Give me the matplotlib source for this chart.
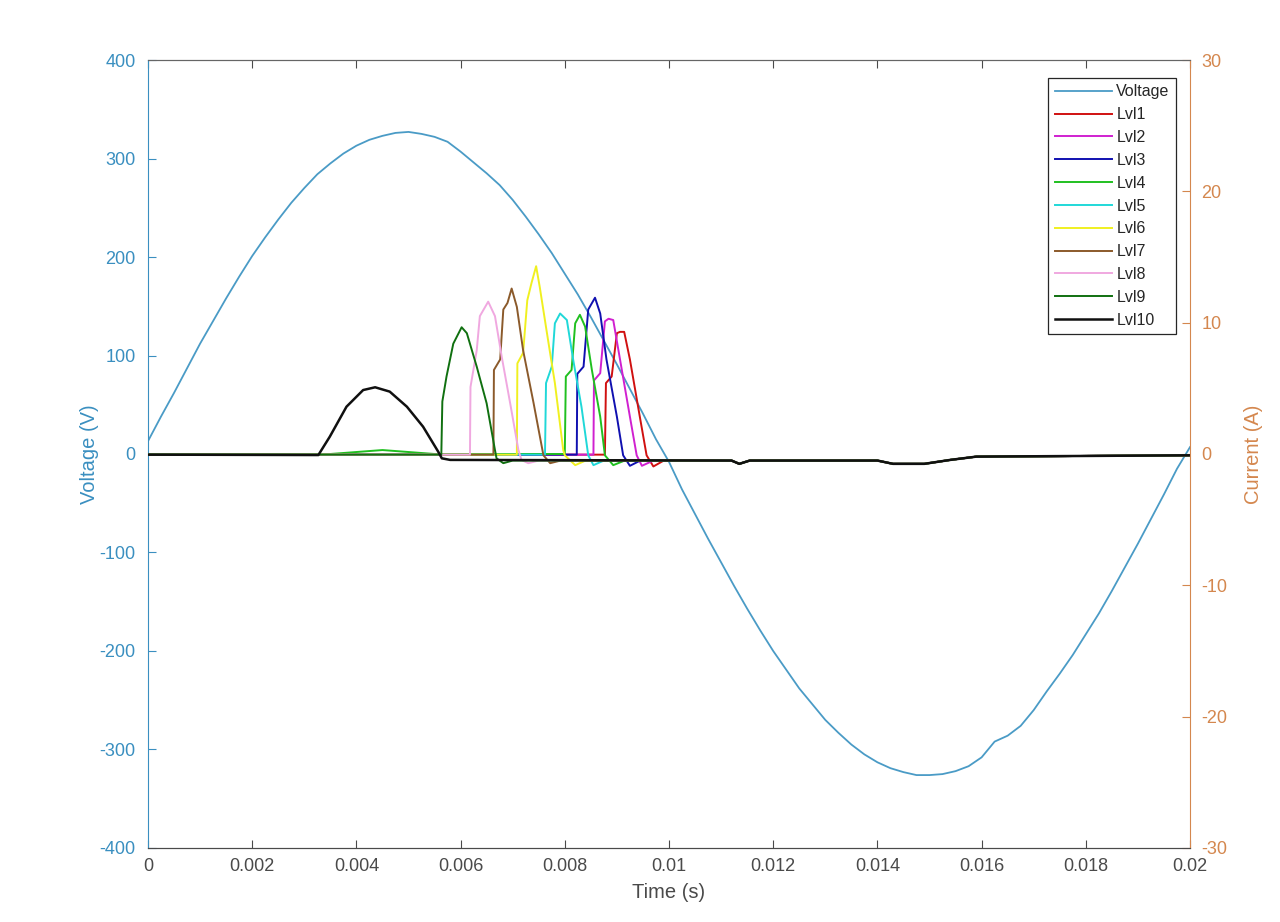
import matplotlib
matplotlib.use("Agg")
import matplotlib.pyplot as plt
import numpy as np

plt.rcParams['font.family'] = ['Liberation Sans', 'DejaVu Sans']
plt.rcParams['axes.unicode_minus'] = False

# ---------------- data (time in ms) ----------------
volt_t = [0, 0.25, 0.5, 0.75, 1.0, 1.25, 1.5, 1.75, 2.0, 2.25, 2.5, 2.75, 3.0, 3.25, 3.5, 3.75,
          4.0, 4.25, 4.5, 4.75, 5.0, 5.25, 5.5, 5.75, 6.0, 6.25, 6.5, 6.75,
          7.0, 7.25, 7.5, 7.75, 8.0, 8.25, 8.5, 8.75, 9.0, 9.25, 9.5, 9.75,
          10.0, 10.25, 10.5, 10.75, 11.0, 11.25, 11.5, 11.75, 12.0, 12.25, 12.5, 12.75,
          13.0, 13.25, 13.5, 13.75, 14.0, 14.25, 14.5, 14.75, 15.0, 15.25, 15.5, 15.75,
          16.0, 16.25, 16.5, 16.75, 17.0, 17.25, 17.5, 17.75, 18.0, 18.25,
          18.5, 18.75, 19.0, 19.25, 19.5, 19.75, 20.0]
volt_v = [13, 38, 62, 87, 112, 135, 158, 180, 201, 220, 238, 255, 270, 284, 295, 305,
          313, 319, 323, 326, 327, 325, 322, 317, 307, 296, 285, 273,
          258, 241, 223, 204, 183, 162, 139, 115, 91, 66, 41, 15,
          -8, -36, -61, -86, -110, -134, -157, -179, -200, -219, -238, -254,
          -270, -283, -295, -305, -313, -319, -323, -326, -326, -325, -322, -317,
          -308, -292, -286, -276, -260, -241, -223, -204, -183, -162,
          -139, -115, -91, -66, -41, -15, 7]

tail_t = [11.2, 11.35, 11.55, 14.0, 14.3, 14.9, 15.4, 15.9, 20.0]
tail_i = [-0.5, -0.75, -0.5, -0.5, -0.75, -0.75, -0.45, -0.2, -0.1]

lvl1_t = [0, 8.77, 8.79, 8.90, 9.00, 9.06, 9.14, 9.25, 9.44, 9.57, 9.70, 9.90]
lvl1_i = [-0.05, -0.05, 5.4, 5.9, 9.2, 9.3, 9.3, 7.2, 2.84, -0.1, -0.95, -0.5]
lvl2_t = [0, 8.55, 8.56, 8.68, 8.77, 8.84, 8.93, 9.06, 9.25, 9.38, 9.48, 9.70]
lvl2_i = [-0.05, -0.05, 5.6, 6.15, 10.1, 10.3, 10.2, 7.2, 2.84, -0.1, -0.9, -0.5]
lvl3_t = [0, 8.23, 8.24, 8.36, 8.45, 8.58, 8.68, 8.80, 9.00, 9.12, 9.25, 9.45]
lvl3_i = [-0.05, -0.05, 6.1, 6.65, 11.0, 11.9, 10.7, 7.2, 2.84, -0.1, -0.9, -0.5]
lvl4_t = [0, 3.5, 4.5, 5.5, 8.00, 8.02, 8.13, 8.20, 8.29, 8.39, 8.52, 8.68, 8.77, 8.93, 9.15]
lvl4_i = [0.0, 0.0, 0.3, 0.0, 0.0, 5.9, 6.4, 9.95, 10.6, 9.7, 6.4, 2.84, -0.1, -0.85, -0.5]
lvl5_t = [0, 7.62, 7.64, 7.75, 7.81, 7.91, 8.04, 8.16, 8.32, 8.45, 8.55, 8.75]
lvl5_i = [-0.05, -0.05, 5.4, 6.65, 9.95, 10.7, 10.2, 7.2, 3.6, -0.1, -0.85, -0.5]
lvl6_t = [0, 7.08, 7.09, 7.20, 7.28, 7.36, 7.45, 7.52, 7.65, 7.81, 7.97, 8.00, 8.20, 8.40]
lvl6_i = [-0.05, -0.05, 6.9, 7.7, 11.7, 13.0, 14.3, 12.7, 9.4, 5.4, 0.3, -0.1, -0.85, -0.5]
lvl7_t = [0, 6.63, 6.64, 6.76, 6.82, 6.90, 6.98, 7.08, 7.20, 7.40, 7.59, 7.72, 7.92]
lvl7_i = [-0.05, -0.05, 6.4, 7.2, 11.0, 11.5, 12.6, 11.2, 7.9, 3.9, -0.1, -0.7, -0.5]
lvl8_t = [0, 6.18, 6.19, 6.31, 6.37, 6.53, 6.66, 6.79, 6.95, 7.11, 7.17, 7.30, 7.50]
lvl8_i = [-0.05, -0.05, 5.1, 7.9, 10.5, 11.6, 10.5, 7.4, 3.9, 0.3, -0.46, -0.7, -0.5]
lvl9_t = [0, 5.63, 5.65, 5.73, 5.86, 6.02, 6.12, 6.31, 6.50, 6.66, 6.69, 6.82, 7.00]
lvl9_i = [-0.05, -0.05, 4.0, 5.9, 8.4, 9.65, 9.2, 6.65, 3.86, 0.3, -0.33, -0.7, -0.5]
lvl10_t = [0, 3.27, 3.49, 3.81, 4.13, 4.36, 4.64, 4.97, 5.28, 5.57, 5.64, 5.80]
lvl10_i = [-0.05, -0.08, 1.32, 3.6, 4.87, 5.08, 4.75, 3.6, 2.08, 0.18, -0.33, -0.45]

level_names = ['Lvl1', 'Lvl2', 'Lvl3', 'Lvl4', 'Lvl5', 'Lvl6', 'Lvl7', 'Lvl8', 'Lvl9', 'Lvl10']
level_colors = ['#D01010', '#D020D0', '#1010B0', '#20C020', '#20D8D8', '#F0F020',
                '#8B5A2B', '#F0A8E0', '#107010', '#101010']
levels_t = [lvl1_t, lvl2_t, lvl3_t, lvl4_t, lvl5_t, lvl6_t, lvl7_t, lvl8_t, lvl9_t, lvl10_t]
levels_i = [lvl1_i, lvl2_i, lvl3_i, lvl4_i, lvl5_i, lvl6_i, lvl7_i, lvl8_i, lvl9_i, lvl10_i]

xticks = [0, 0.002, 0.004, 0.006, 0.008, 0.01, 0.012, 0.014, 0.016, 0.018, 0.02]
xtick_labels = ['0', '0.002', '0.004', '0.006', '0.008', '0.01', '0.012', '0.014', '0.016', '0.018', '0.02']
vticks = [-400, -300, -200, -100, 0, 100, 200, 300, 400]
iticks = [-30, -20, -10, 0, 10, 20, 30]

# ---------------- figure ----------------
BLUE = '#3A8FC0'
VLINE = '#4A9BC6'
ORANGE = '#D4874E'
GRAY = '#4A4A4A'

fig = plt.figure(figsize=(12.8, 9.22), dpi=100)
ax = fig.add_axes([0.1156, 0.0803, 0.8141, 0.8546])
ax2 = ax.twinx()

vline, = ax.plot(np.array(volt_t) / 1000.0, volt_v, color=VLINE, lw=1.3, label='Voltage')

handles = [vline]
for name, col, tt, ii in zip(level_names, level_colors, levels_t, levels_i):
    t_all = np.concatenate([np.array(tt), np.array(tail_t)]) / 1000.0
    i_all = np.concatenate([np.array(ii), np.array(tail_i)])
    lw = 1.8 if name == 'Lvl10' else 1.4
    h, = ax2.plot(t_all, i_all, color=col, lw=lw, label=name)
    handles.append(h)

ax.set_xlim(0, 0.02)
ax.set_ylim(-400, 400)
ax2.set_ylim(-30, 30)

ax.set_xticks(xticks)
ax.set_xticklabels(xtick_labels)
ax.set_yticks(vticks)
ax2.set_yticks(iticks)

ax.tick_params(axis='x', direction='in', length=6, top=True, colors=GRAY, labelsize=13, pad=7)
ax.tick_params(axis='y', direction='in', length=6, colors=BLUE, labelsize=13, pad=9)
ax2.tick_params(axis='y', direction='in', length=6, colors=ORANGE, labelsize=13, pad=8)

for a in (ax, ax2):
    a.spines['top'].set_color('#666666')
    a.spines['bottom'].set_color(GRAY)
ax.spines['left'].set_color(BLUE)
ax2.spines['left'].set_visible(False)
ax2.spines['right'].set_color(ORANGE)
ax.spines['right'].set_visible(False)

ax.set_xlabel('Time (s)', fontsize=14.5, color=GRAY, labelpad=6)
ax.set_ylabel('Voltage (V)', fontsize=14.5, color=BLUE, labelpad=0)
ax2.set_ylabel('Current (A)', fontsize=14.5, color=ORANGE, labelpad=12)

leg = ax2.legend(handles=handles, loc='upper right', bbox_to_anchor=(0.9866, 0.9772),
                 borderaxespad=0, fontsize=11.5, handlelength=3.6, handletextpad=0.25,
                 labelspacing=0.49, borderpad=0.4, fancybox=False, framealpha=1)
leg.get_frame().set_edgecolor('#262626')
leg.get_frame().set_linewidth(0.9)
for txt in leg.get_texts():
    txt.set_color('#262626')

fig.savefig('out.png', dpi=100)
